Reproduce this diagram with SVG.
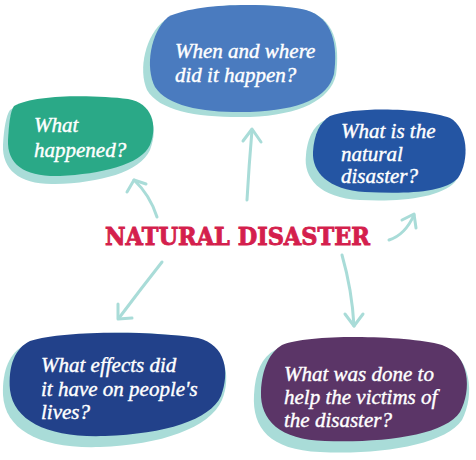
<svg xmlns="http://www.w3.org/2000/svg" width="476" height="460" viewBox="0 0 476 460">
<defs>
<style>
.sh{fill:#a9dcd8}
.q{font-family:"Liberation Serif","DejaVu Serif",serif;font-style:italic;font-size:21px;fill:#fff;stroke:#fff;stroke-width:0.4}
.c{fill:none;stroke:#a9dcd8;stroke-width:3;stroke-linecap:round;stroke-linejoin:round}
.t{font-family:"DejaVu Serif",serif;font-weight:bold;font-size:24px;fill:#d41f4d;stroke:#d41f4d;stroke-width:0.9}
</style>
</defs>
<rect width="476" height="460" fill="#fff"/>
<g id="connectors">
<path class="c" d="M157,217 Q150,195 134,180"/>
<path class="c" d="M127,192 L134,180 L146,184"/>
<path class="c" d="M247,200 Q249,165 252,130"/>
<path class="c" d="M243,141 L252,129 L261,142"/>
<path class="c" d="M389,240 Q405,235 414,215"/>
<path class="c" d="M402,220 L414,214 L416,228"/>
<path class="c" d="M162,262 Q140,290 119,318"/>
<path class="c" d="M118,304 L118,319 L132,318"/>
<path class="c" d="M342,255 Q352,290 354,326"/>
<path class="c" d="M345,314 L354,326 L363,314"/>
</g>
<g id="n-happened">
<path class="sh" d="M10,110 C30,96 90,96 125,100 C150,104 160,125 150,150 C140,172 100,183 55,184 C20,185 2,170 3,145 C4,128 6,116 10,110Z"/>
<path fill="#2aa987" d="M14,106 C35,94 95,95 128,99 C152,103 158,125 150,145 C141,165 100,174 60,176 C25,177 7,165 8,140 C9,124 10,112 14,106Z"/>
<text class="q"><tspan x="34" y="132">What</tspan><tspan x="34" y="157">happened?</tspan></text>
</g>
<g id="n-when">
<path class="sh" d="M165,20 C195,2 270,2 305,10 C335,18 340,45 336,75 C330,100 300,115 250,117 C200,118 160,112 147,90 C138,70 145,35 165,20Z"/>
<path fill="#4a7bbf" d="M168,17 C198,2 272,3 306,10 C333,18 338,45 334,74 C328,98 300,110 250,112 C205,113 168,107 155,87 C145,68 150,33 168,17Z"/>
<text class="q"><tspan x="175" y="58">When and where</tspan><tspan x="175" y="82">did it happen?</tspan></text>
</g>
<g id="n-what">
<path class="sh" d="M325,120 C350,106 420,108 445,118 C468,128 468,165 455,182 C440,198 400,202 360,200 C320,198 303,178 306,155 C308,135 315,125 325,120Z"/>
<path fill="#2455a3" d="M330,116 C355,106 425,108 450,118 C468,128 470,160 458,178 C444,193 405,194 365,192 C328,190 312,172 313,152 C314,134 320,122 330,116Z"/>
<text class="q"><tspan x="341" y="138">What is the</tspan><tspan x="341" y="161">natural</tspan><tspan x="341" y="183">disaster?</tspan></text>
</g>
<g id="title">
<text class="t" x="105" y="245" textLength="265" lengthAdjust="spacingAndGlyphs">NATURAL DISASTER</text>
</g>
<g id="n-effects">
<path class="sh" d="M25,345 C60,330 150,330 195,338 C225,345 232,375 222,400 C210,428 160,445 100,447 C40,449 5,430 3,395 C2,370 10,352 25,345Z"/>
<path fill="#22418a" d="M30,341 C65,330 155,331 198,338 C226,345 230,372 221,396 C210,420 165,434 105,436 C50,438 14,422 10,390 C8,366 15,348 30,341Z"/>
<text class="q"><tspan x="41" y="372">What effects did</tspan><tspan x="41" y="396">it have on people's</tspan><tspan x="41" y="419">lives?</tspan></text>
</g>
<g id="n-help">
<path class="sh" d="M275,350 C300,335 400,335 440,345 C472,355 475,395 462,420 C445,445 380,455 320,452 C270,450 252,428 254,395 C255,372 262,357 275,350Z"/>
<path fill="#5b3567" d="M282,345 C308,334 405,335 442,345 C470,355 472,390 460,412 C445,435 385,443 325,441 C280,440 260,420 261,392 C262,368 270,352 282,345Z"/>
<text class="q"><tspan x="284" y="381">What was done to</tspan><tspan x="284" y="404">help the victims of</tspan><tspan x="284" y="427">the disaster?</tspan></text>
</g>
</svg>
